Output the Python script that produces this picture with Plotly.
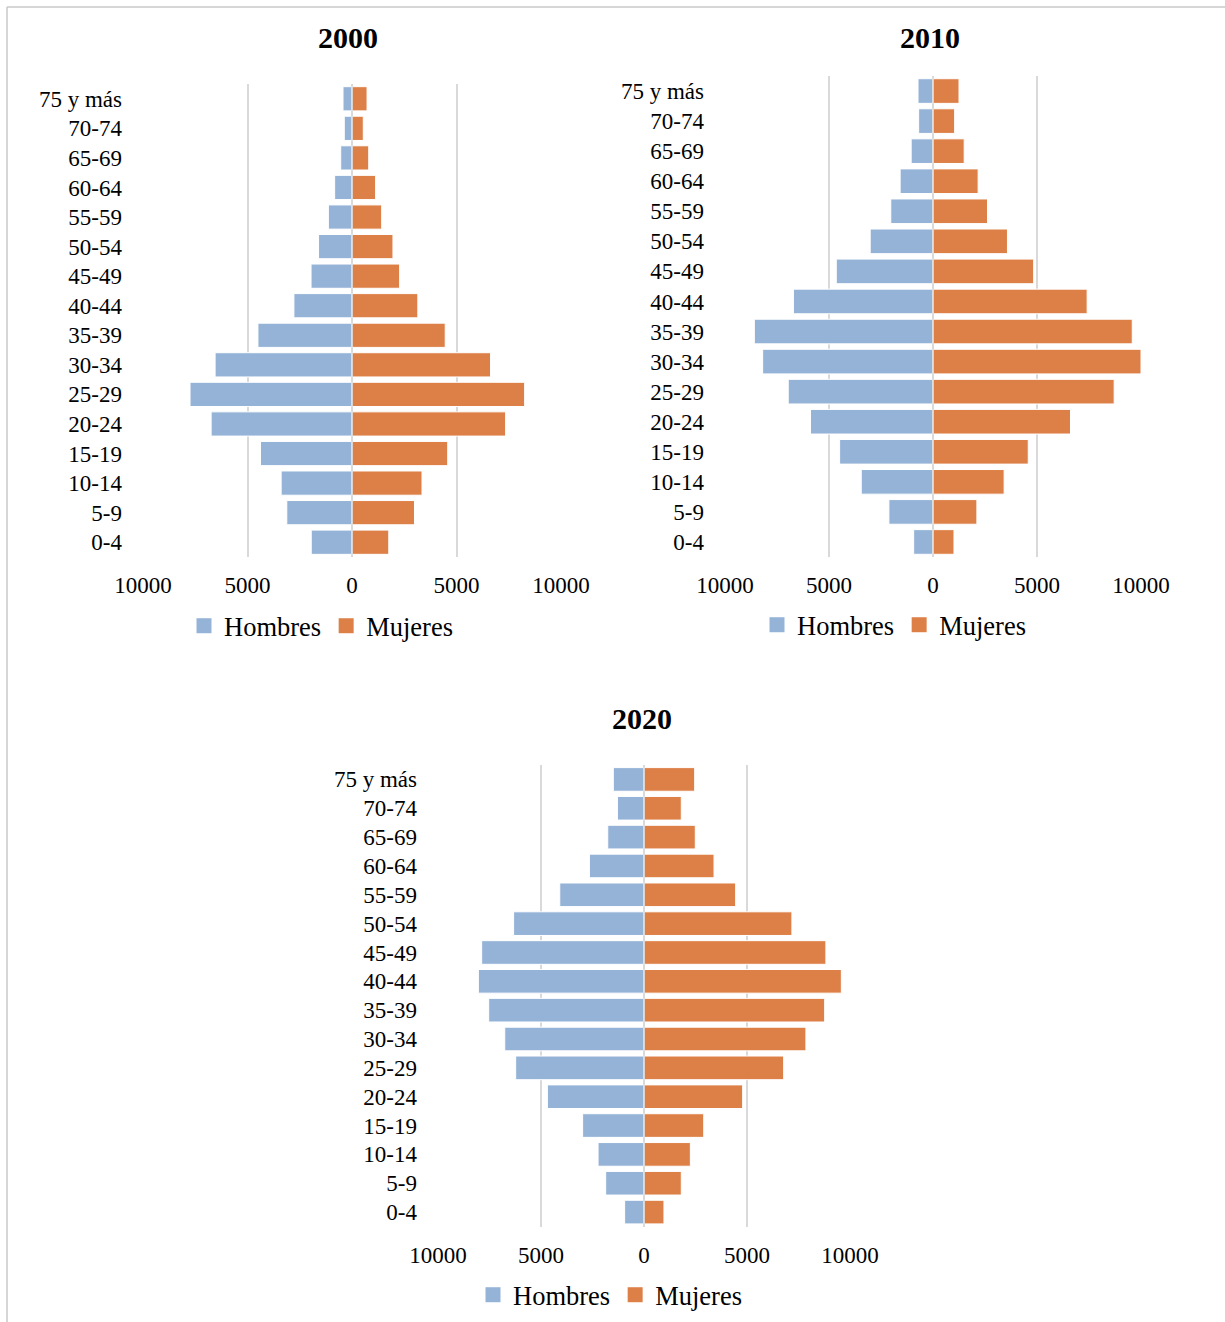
import plotly.graph_objects as go

W, H = 1225, 1322

age_groups = ["0-4", "5-9", "10-14", "15-19", "20-24", "25-29", "30-34", "35-39",
              "40-44", "45-49", "50-54", "55-59", "60-64", "65-69", "70-74", "75 y más"]

hombres_2000 = [1950, 3120, 3390, 4380, 6740, 7750, 6550, 4500, 2780, 1960, 1600, 1130, 830, 540, 370, 430]
mujeres_2000 = [1760, 2990, 3350, 4580, 7350, 8260, 6630, 4460, 3150, 2280, 1960, 1420, 1130, 800, 540, 720]

hombres_2010 = [930, 2120, 3450, 4490, 5890, 6960, 8190, 8590, 6710, 4650, 3020, 2030, 1580, 1050, 690, 720]
mujeres_2010 = [1010, 2110, 3420, 4580, 6610, 8710, 10000, 9580, 7410, 4840, 3580, 2620, 2170, 1500, 1040, 1250]

hombres_2020 = [940, 1860, 2230, 2980, 4690, 6230, 6760, 7540, 8040, 7880, 6330, 4090, 2650, 1760, 1290, 1490]
mujeres_2020 = [970, 1810, 2250, 2900, 4790, 6780, 7860, 8770, 9580, 8830, 7180, 4450, 3400, 2490, 1810, 2460]

years = ["2000", "2010", "2020"]
series_names = ["Hombres", "Mujeres"]
tick_vals = [-10000, -5000, 0, 5000, 10000]
tick_text = ["10000", "5000", "0", "5000", "10000"]

COL_H = "#95B3D7"
COL_M = "#DD8047"
GRID = "#D9D9D9"
FONT = "Liberation Serif"


def px_x(p):
    return p / W


def px_y(p):
    return 1 - p / H


panels = [
    # (hombres, mujeres, x0, x1, ytop, ybot, title_x, title_y, legend_x, legend_y)
    (hombres_2000, mujeres_2000, 143, 561, 84, 557, 348, 38, 321, 626),
    (hombres_2010, mujeres_2010, 725, 1141, 76, 557, 930, 38, 894, 625),
    (hombres_2020, mujeres_2020, 438, 850, 765, 1226.5, 642, 718, 610, 1295),
]

fig = go.Figure()
annotations = []
shapes = []
for i, (hom, muj, x0, x1, yt, yb, tx, ty, lx, ly) in enumerate(panels):
    n = "" if i == 0 else str(i + 1)
    leg = "legend" if i == 0 else "legend" + str(i + 1)
    fig.add_trace(go.Bar(
        y=age_groups, x=[-v for v in hom], orientation="h", name=series_names[0],
        marker=dict(color=COL_H, line=dict(color="white", width=1)),
        xaxis="x" + n, yaxis="y" + n, showlegend=False,
        customdata=hom, hovertemplate="%{y}: %{customdata}<extra>Hombres</extra>",
    ))
    fig.add_trace(go.Bar(
        y=age_groups, x=muj, orientation="h", name=series_names[1],
        marker=dict(color=COL_M, line=dict(color="white", width=1)),
        xaxis="x" + n, yaxis="y" + n, showlegend=False,
        hovertemplate="%{y}: %{x}<extra>Mujeres</extra>",
    ))
    # legend entries (square keys)
    for name, col in zip(series_names, [COL_H, COL_M]):
        fig.add_trace(go.Scatter(
            x=[None], y=[None], mode="markers", name=name,
            marker=dict(symbol="square", size=15, color=col),
            xaxis="x" + n, yaxis="y" + n, legend=leg, showlegend=True, hoverinfo="skip",
        ))
    fig.update_layout(**{
        "xaxis" + n: dict(
            domain=[px_x(x0), px_x(x1)], anchor="y" + n, range=[-10000, 10000],
            tickvals=tick_vals, ticktext=tick_text, showgrid=True, gridcolor=GRID,
            gridwidth=1.5, zeroline=False, showline=False, ticks="",
            ticklabelstandoff=12, automargin=False,
            tickfont=dict(family=FONT, size=23, color="black"), fixedrange=True,
        ),
        "yaxis" + n: dict(
            domain=[px_y(yb), px_y(yt)], anchor="x" + n, type="category",
            categoryorder="array", categoryarray=age_groups,
            showgrid=False, zeroline=False, showline=False, ticks="",
            ticklabelstandoff=20, automargin=False,
            tickfont=dict(family=FONT, size=23, color="black"), fixedrange=True,
        ),
        leg: dict(
            orientation="h", x=px_x(lx), y=px_y(ly), xanchor="center", yanchor="middle",
            xref="container", yref="container",
            font=dict(family=FONT, size=26.5, color="black"), bgcolor="rgba(0,0,0,0)",
            traceorder="normal", itemclick=False, itemdoubleclick=False,
        ),
    })
    annotations.append(dict(
        text="<b>" + years[i] + "</b>", x=px_x(tx), y=px_y(ty), xref="paper", yref="paper",
        showarrow=False, xanchor="center", yanchor="middle",
        font=dict(family=FONT, size=30, color="black"),
    ))
    shapes.append(dict(
        type="line", xref="x" + n, yref="y" + n + " domain", x0=0, x1=0, y0=0, y1=1,
        line=dict(color=GRID, width=1.5), layer="above",
    ))

# outer frame (top and left edges)
shapes.append(dict(type="line", xref="paper", yref="paper", x0=px_x(7), x1=1, y0=px_y(7), y1=px_y(7),
                   line=dict(color="#C8C8C8", width=1.5)))
shapes.append(dict(type="line", xref="paper", yref="paper", x0=px_x(7), x1=px_x(7), y0=px_y(7), y1=0,
                   line=dict(color="#C8C8C8", width=1.5)))

fig.update_layout(
    width=W, height=H, margin=dict(l=0, r=0, t=0, b=0, pad=0, autoexpand=False),
    autosize=False,
    paper_bgcolor="white", plot_bgcolor="white",
    barmode="relative", bargap=0.18,
    font=dict(family=FONT, color="black"),
    annotations=annotations, shapes=shapes,
    showlegend=True,
)

fig.write_html("out.html", config={"displayModeBar": False},
               post_script="document.body.style.margin='0';")
